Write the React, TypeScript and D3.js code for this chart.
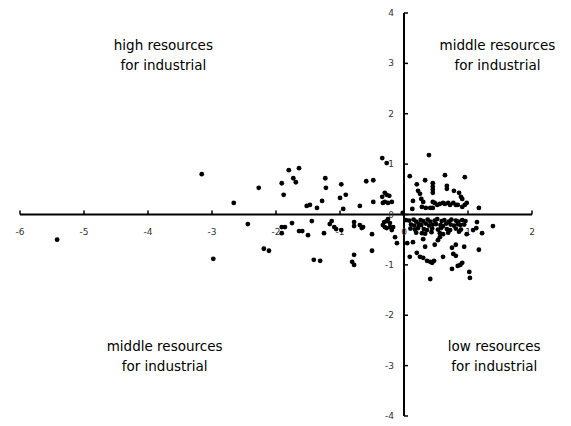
import React from 'react';
import * as d3 from 'd3';

// scores (x = component 1, y = component 2)
const leftX = [-5.42, -3.16, -2.98, -2.66, -2.44, -2.27, -2.19, -2.11, -1.80, -1.64, -1.91, -1.73, -1.69, -1.88, -1.91, -1.86, -1.91, -1.75, -1.64, -1.59, -1.50, -1.44, -1.52, -1.47, -1.36, -1.28, -1.23, -1.22, -1.25, -1.41, -1.31, -1.16, -1.13, -1.09, -1.06, -1.00, -0.98, -0.91, -0.95, -0.98, -0.78, -0.78, -0.78, -0.81, -0.78, -0.69, -0.69, -0.66, -0.64, -0.59, -0.48, -0.48, -0.50, -0.50, -0.34, -0.27, -0.30, -0.27, -0.23, -0.34, -0.33, -0.30, -0.25, -0.19, -0.31, -0.27, -0.25, -0.22, -0.30, -0.27, -0.22, -0.19, -0.33, -0.17, -0.14, -0.11, -0.02, 0.03];
const leftY = [-0.50, 0.80, -0.88, 0.23, -0.19, 0.53, -0.68, -0.72, 0.88, 0.92, 0.62, 0.72, 0.64, 0.39, -0.25, -0.25, -0.37, -0.17, -0.33, -0.33, -0.41, -0.13, 0.17, 0.19, 0.13, 0.27, 0.72, 0.53, -0.37, -0.90, -0.92, -0.19, -0.13, -0.25, -0.29, 0.33, 0.60, 0.39, 0.11, -0.31, -0.15, -0.23, -0.80, -0.94, -1.00, 0.17, -0.21, -0.27, -0.25, 0.66, 0.68, 0.25, -0.39, -0.72, 1.12, 1.02, 0.43, 0.39, 0.37, 0.35, 0.23, 0.25, 0.23, 0.25, -0.15, -0.13, -0.09, -0.17, -0.25, -0.27, -0.25, -0.31, -0.21, -0.25, -0.45, -0.57, 0.03, -0.11];

const upperX = [0.39, 0.09, 0.33, 0.64, 0.95, 0.20, 0.45, 0.45, 0.45, 0.45, 0.67, 0.67, 0.22, 0.25, 0.27, 0.30, 0.78, 0.86, 0.89, 0.91, 0.14, 0.13, 0.28, 0.34, 0.41, 0.45, 0.48, 0.52, 0.56, 0.61, 0.64, 0.69, 0.72, 0.77, 0.81, 0.84, 0.91, 0.95, 0.98, 1.17, 0.45];
const upperY = [1.18, 0.76, 0.68, 0.78, 0.74, 0.60, 0.62, 0.55, 0.49, 0.43, 0.57, 0.51, 0.47, 0.41, 0.31, 0.25, 0.47, 0.43, 0.35, 0.31, 0.27, 0.11, 0.15, 0.13, 0.13, 0.13, 0.23, 0.19, 0.21, 0.23, 0.21, 0.23, 0.19, 0.23, 0.19, 0.19, 0.15, 0.19, 0.23, 0.13, 0.25];

const lowerX = [0.05, 0.09, 0.14, 0.20, 0.25, 0.30, 0.36, 0.41, 0.44, 0.47, 0.61, 0.75, 0.81, 0.77, 0.81, 0.91, 0.88, 0.84, 0.75, 0.41, 1.02, 1.03, 0.94, 1.17, 1.14, 1.22, 1.39, 1.08, 1.13, 0.98, 0.30, 0.28, 0.33, 0.48, 0.56, 0.53, 0.61,
  0.08, 0.15, 0.19, 0.26, 0.30, 0.37, 0.41, 0.48, 0.52, 0.59, 0.63, 0.70, 0.74, 0.81, 0.85, 0.91, 0.96,
  0.11, 0.16, 0.23, 0.27, 0.34, 0.39, 0.45, 0.50, 0.57, 0.61, 0.66, 0.73, 0.78, 0.84, 0.88, 0.94,
  0.10, 0.17, 0.22, 0.31, 0.36, 0.44, 0.53, 0.58, 0.67, 0.72, 0.81, 0.89,
  0.19, 0.33, 0.43, 0.56, 0.69, 0.86];
const lowerY = [-0.57, -0.84, -0.55, -0.76, -0.84, -0.86, -0.92, -0.94, -0.96, -0.92, -0.84, -0.66, -0.60, -0.78, -0.82, -0.96, -1.00, -1.02, -1.08, -1.28, -1.14, -1.26, -0.64, -0.70, -0.15, -0.37, -0.23, -0.31, -0.27, -0.39, -0.49, -0.37, -0.64, -0.60, -0.45, -0.51, -0.39,
  -0.12, -0.10, -0.14, -0.11, -0.13, -0.10, -0.14, -0.12, -0.09, -0.13, -0.11, -0.14, -0.10, -0.12, -0.14, -0.11, -0.13,
  -0.20, -0.22, -0.19, -0.21, -0.18, -0.22, -0.20, -0.19, -0.21, -0.23, -0.18, -0.20, -0.22, -0.19, -0.21, -0.20,
  -0.28, -0.30, -0.27, -0.29, -0.31, -0.28, -0.30, -0.27, -0.29, -0.31, -0.28, -0.30,
  -0.36, -0.38, -0.35, -0.37, -0.36, -0.34];

const xTicks = [-6, -5, -4, -3, -2, -1, 0, 1, 2];
const yTicks = [-4, -3, -2, -1, 0, 1, 2, 3, 4];

const quadrantLabels = [
  { x: -3.76, y: 3.27, lines: ['high resources', 'for industrial'] },
  { x: 1.46, y: 3.27, lines: ['middle resources', 'for industrial'] },
  { x: -3.74, y: -2.71, lines: ['middle resources', 'for industrial'] },
  { x: 1.41, y: -2.71, lines: ['low resources', 'for industrial'] },
];

const App = () => {
  const width = 571;
  const height = 426;

  const x = d3.scaleLinear().domain([-6, 2]).range([20, 532]);
  const y = d3.scaleLinear().domain([-4, 4]).range([416, 13]);

  const points = [
    ...leftX.map((v, i) => [v, leftY[i]]),
    ...upperX.map((v, i) => [v, upperY[i]]),
    ...lowerX.map((v, i) => [v, lowerY[i]]),
  ];

  const font = 'Tahoma, "DejaVu Sans", sans-serif';

  return (
    <svg width={width} height={height} style={{ position: 'absolute', left: 0, top: 0, background: '#fff' }}>
      {/* axes */}
      <line x1={x(-6)} x2={x(2)} y1={y(0)} y2={y(0)} stroke="#000" strokeWidth={2} />
      <line x1={x(0)} x2={x(0)} y1={y(4)} y2={y(-4)} stroke="#000" strokeWidth={2} />
      {xTicks.map(t => (
        <g key={'xt' + t}>
          <line x1={x(t)} x2={x(t)} y1={y(0) - 4} y2={y(0)} stroke="#000" strokeWidth={1.5} />
          <text x={x(t)} y={y(0) + 20} textAnchor="middle" fontSize={9} fill="#333" fontFamily={font}>{t}</text>
        </g>
      ))}
      {yTicks.map(t => (
        <g key={'yt' + t}>
          <line x1={x(0)} x2={x(0) + 4} y1={y(t)} y2={y(t)} stroke="#000" strokeWidth={1.5} />
          <text x={x(0) - 10} y={y(t) + 3} textAnchor="end" fontSize={9} fill="#333" fontFamily={font}>{t}</text>
        </g>
      ))}
      {points.map((p, i) => (
        <circle key={i} cx={x(p[0])} cy={y(p[1])} r={2.4} fill="#000" />
      ))}
      {quadrantLabels.map((q, i) => (
        <text key={'q' + i} x={x(q.x)} y={y(q.y)} textAnchor="middle" fontSize={13.5} fill="#000" fontFamily={font}>
          {q.lines.map((l, j) => (
            <tspan key={j} x={x(q.x)} dy={j === 0 ? 0 : 20}>{l}</tspan>
          ))}
        </text>
      ))}
    </svg>
  );
};

export default App;
